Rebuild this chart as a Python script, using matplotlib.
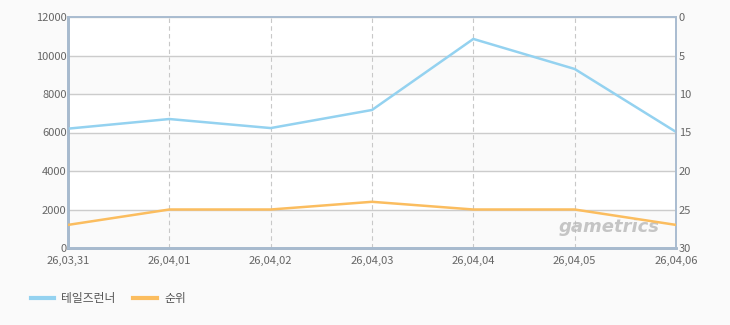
import matplotlib.pyplot as plt
from matplotlib.lines import Line2D

plt.rcParams['font.family'] = ['Noto Sans CJK KR', 'DejaVu Sans']

dates = ['26,03,31', '26,04,01', '26,04,02', '26,04,03', '26,04,04', '26,04,05', '26,04,06']
users = [6200, 6700, 6230, 7170, 10860, 9300, 6030]
rank = [27, 25, 25, 24, 25, 25, 27]
series_names = ['테일즈런너', '순위']

bg = '#fafafa'
blue = '#94d2f0'
orange = '#fbbd5f'
frame = '#a9bcd0'
tick_col = '#666666'

fig = plt.figure(figsize=(7.3, 3.25), dpi=100, facecolor=bg)
ax = fig.add_axes([68 / 730, 1 - 248 / 325, 608 / 730, 231 / 325])
ax.set_facecolor('white')

x = list(range(len(dates)))
ax.set_xlim(0, len(dates) - 1)
ax.set_ylim(0, 12000)
ax.set_yticks(range(0, 12001, 2000))
for i, lo in enumerate(range(0, 12000, 2000)):
    if i % 2 == 0:
        ax.axhspan(lo, lo + 2000, color='#fafafa', zorder=0)
ax.grid(axis='y', color='#cccccc', linewidth=1, zorder=1)
for xi in x[1:-1]:
    ax.axvline(xi, color='#c8c8c8', linewidth=0.8, linestyle=(0, (4, 3)), zorder=1)

ax.plot(x, users, color=blue, linewidth=1.8, zorder=3, solid_joinstyle='round')
ax.set_xticks(x)
ax.set_xticklabels(dates)

ax2 = ax.twinx()
ax2.set_ylim(30, 0)
ax2.set_yticks(range(0, 31, 5))
ax2.plot(x, rank, color=orange, linewidth=1.8, zorder=3)

for a in (ax, ax2):
    for s in a.spines.values():
        s.set_color(frame)
        s.set_linewidth(1.2)
    a.tick_params(colors=tick_col, labelsize=8, length=0, pad=2)
ax.spines['left'].set_linewidth(2)
ax.spines['bottom'].set_linewidth(2)
ax.spines['left'].set_color('#9fb3c8')
ax.spines['bottom'].set_color('#9fb3c8')
ax.tick_params(axis='y', pad=1)
ax.tick_params(axis='x', pad=6)
ax2.tick_params(axis='y', pad=2)

ax.text(0.89, 0.09, 'gametrics', transform=ax.transAxes, ha='center', va='center',
        fontsize=13, fontstyle='italic', fontweight='bold', color='#b8b8b8', alpha=0.8,
        family='DejaVu Sans', zorder=2)

handles = [Line2D([], [], color=blue, linewidth=3), Line2D([], [], color=orange, linewidth=3)]
fig.legend(handles, series_names, loc='lower left', bbox_to_anchor=(20 / 730, 9 / 325),
           ncol=2, frameon=False, fontsize=8.5, labelcolor='#555555', handlelength=2,
           handletextpad=0.6, columnspacing=1.5)

fig.savefig('out.png', dpi=100, facecolor=bg)
